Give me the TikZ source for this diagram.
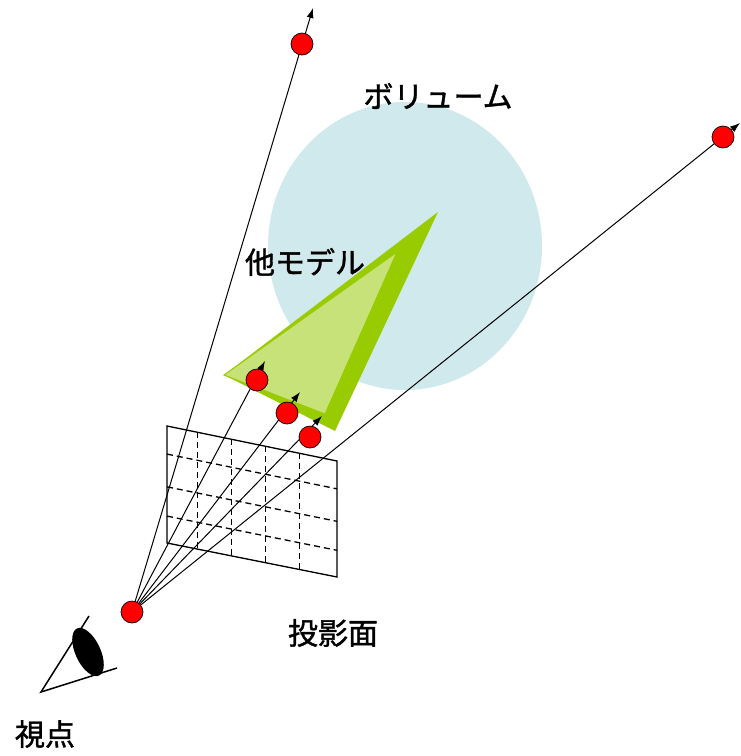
\documentclass[tikz,border=0pt]{standalone}
\usepackage{fontspec}
\newfontfamily\jp[FakeBold=1.3]{Noto Sans CJK JP}
\usetikzlibrary{arrows.meta,calc}
\definecolor{volblue}{RGB}{208,233,236}
\definecolor{modeldark}{RGB}{153,204,0}
\definecolor{modellight}{RGB}{200,226,122}
\begin{document}
\begin{tikzpicture}[x=1pt,y=-1pt,
  ray/.style={black,line width=1pt,-{Latex[length=10pt,width=7pt]}},
  sample/.style={circle,fill=red,draw=black,line width=0.7pt,minimum size=22pt,inner sep=0pt},
  label/.style={font=\jp\fontsize{30}{32}\selectfont,inner sep=0pt},
  gridline/.style={black,line width=1.3pt,dash pattern=on 6pt off 4pt},
  frame/.style={black,line width=1.3pt}]
\useasboundingbox (0,0) rectangle (740,756);

% volume
\fill[volblue] (405,246) ellipse [x radius=137, y radius=144];
\node[label] (vol) at (438,96) {ボリューム};

% other model: two-tone triangle
\fill[modeldark] (224,375) -- (438,212) -- (335,431) -- cycle;
\fill[modellight,draw=modeldark,line width=1pt] (224,375) -- (397,252) -- (325,414) -- cycle;
\node[label] (model) at (305,262) {他モデル};

% projection plane
\coordinate (p1) at (167,426);
\coordinate (p2) at (337,461);
\coordinate (p3) at (337,577);
\coordinate (p4) at (167,543);
\foreach \f in {0.18,0.38,0.58,0.78}
  \draw[gridline] ($(p1)!\f!(p2)$) -- ($(p4)!\f!(p3)$);
\foreach \f in {0.24,0.52,0.77}
  \draw[gridline] ($(p1)!\f!(p4)$) -- ($(p2)!\f!(p3)$);
\draw[frame] (p1) -- (p2) -- (p3) -- (p4) -- cycle;
\node[label] (plane) at (333,633) {投影面};

% rays from the viewpoint
\coordinate (eye) at (132,612);
\coordinate (tA) at (313,8);
\coordinate (tB) at (740,123);
\coordinate (tC) at (265,361);
\coordinate (tD) at (300,392);
\coordinate (tE) at (322,416);
\foreach \t in {tA,tB,tC,tD,tE}
  \draw[ray] (eye) -- (\t);

% sample points
\node[sample] (s0) at (eye) {};
\node[sample] (sA) at (302,44) {};
\node[sample] (sB) at (723,137) {};
\node[sample] (sC) at (257,380) {};
\node[sample] (sD) at (287,413) {};
\node[sample] (sE) at (310,437) {};

% viewer
\coordinate (v) at (41,692);
\coordinate (vu) at (89,616);
\coordinate (vl) at (117,668);
\draw[black,line width=1.5pt] (vu) -- (v) -- (vl);
\fill[black] (88,652) ellipse [x radius=12.5, y radius=26, rotate=25];
\node[label] (viewer) at (45,734) {視点};
\end{tikzpicture}
\end{document}
